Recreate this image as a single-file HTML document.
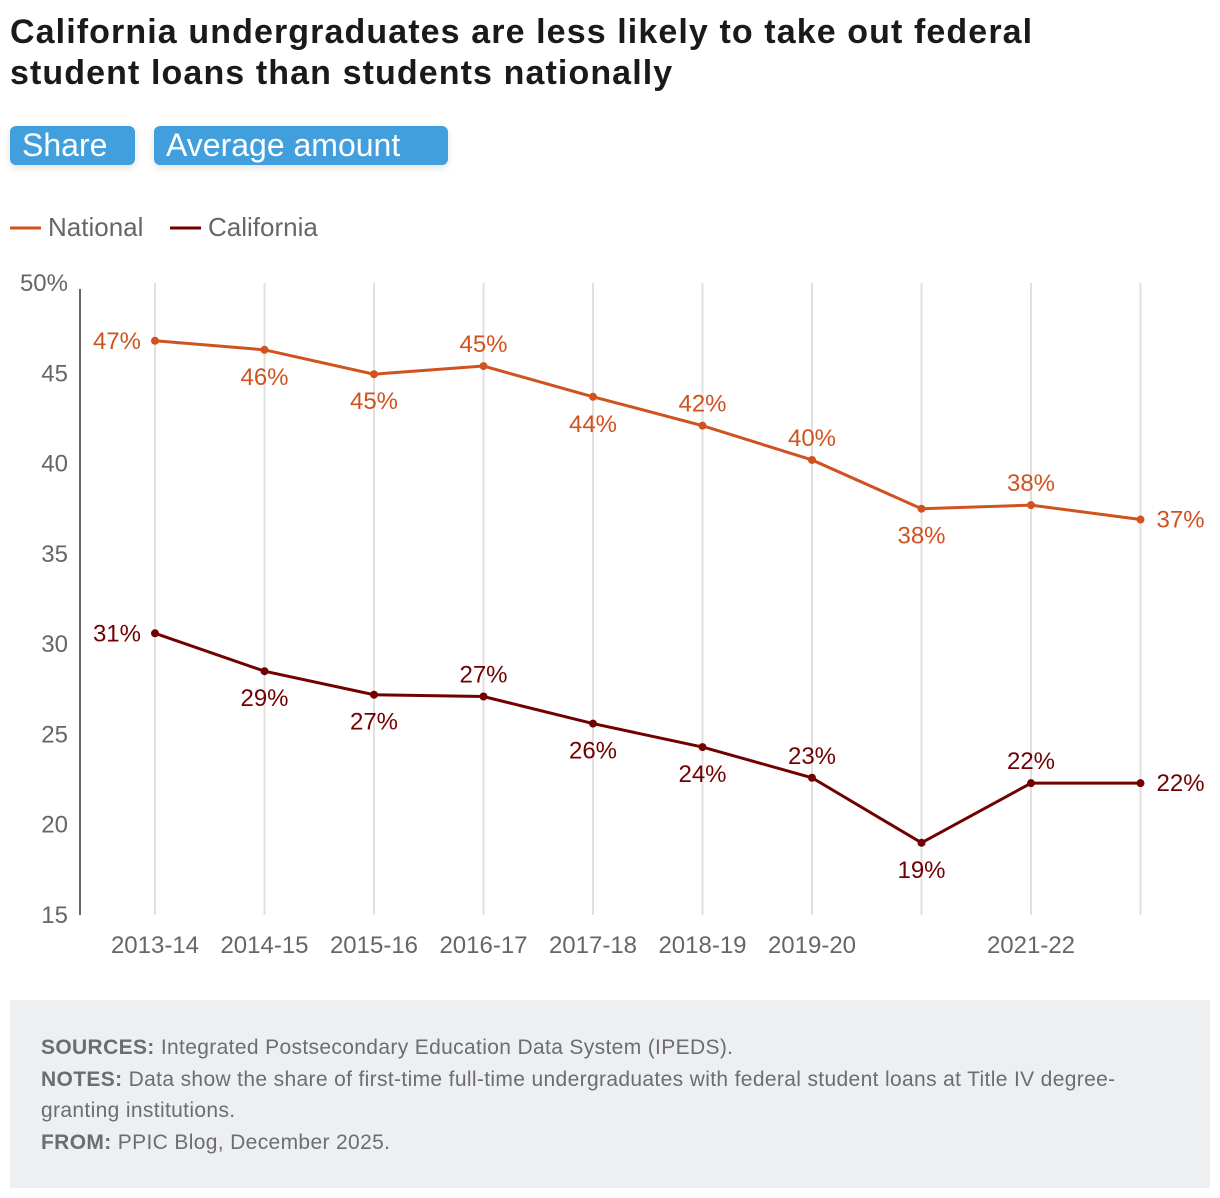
<!DOCTYPE html>
<html><head><meta charset="utf-8"><style>
body{margin:0;width:1220px;height:1198px;background:#fff;font-family:"Liberation Sans",sans-serif;position:relative;overflow:hidden}
h1{position:absolute;left:10px;top:12px;margin:0;font-size:34px;letter-spacing:1.1px;line-height:41px;font-weight:bold;color:#1a1a1a;width:1200px;white-space:nowrap}
.btn{position:absolute;top:126px;height:39px;background:#419fdd;color:#fff;font-size:32px;line-height:39px;border-radius:6px;padding:0 12px;box-shadow:0 3px 8px rgba(0,0,0,.12)}
.foot{position:absolute;left:10px;top:1000px;width:1200px;height:188px;background:#eeeff1;color:#6b6d72;font-size:21px;letter-spacing:0.35px;line-height:31px}
.foot div{position:absolute;left:31px}
</style></head><body>
<h1>California undergraduates are less likely to take out federal<br>student loans than students nationally</h1>
<div class="btn" style="left:10px;width:101px">Share</div>
<div class="btn" style="left:154px;width:270px">Average amount</div>
<svg id="c" width="1220" height="1000" style="position:absolute;left:0;top:0" font-family="Liberation Sans, sans-serif">
<g>
<line x1="10" y1="228" x2="41" y2="228" stroke="#d0521f" stroke-width="3"/>
<text x="48" y="236" font-size="26" fill="#666">National</text>
<line x1="170" y1="228" x2="201" y2="228" stroke="#710000" stroke-width="3"/>
<text x="208" y="236" font-size="26" fill="#666">California</text>
</g>
</svg>
<div class="foot">
<div style="top:32px"><b>SOURCES:</b> Integrated Postsecondary Education Data System (IPEDS).</div>
<div style="top:64px;width:1085px"><b>NOTES:</b> Data show the share of first-time full-time undergraduates with federal student loans at Title IV degree-granting institutions.</div>
<div style="top:127px"><b>FROM:</b> PPIC Blog, December 2025.</div>
</div>
<script>
const categories=["2013-14","2014-15","2015-16","2016-17","2017-18","2018-19","2019-20","2020-21","2021-22","2022-23"];
const tickShown=[true,true,true,true,true,true,true,false,true,false];
const national=[46.8,46.3,44.95,45.4,43.7,42.1,40.2,37.5,37.7,36.9];
const california=[30.6,28.5,27.2,27.1,25.6,24.3,22.6,19.0,22.3,22.3];
const natLabels=["47%","46%","45%","45%","44%","42%","40%","38%","38%","37%"];
const calLabels=["31%","29%","27%","27%","26%","24%","23%","19%","22%","22%"];
const natPos=["l","b","b","a","b","a","a","b","a","r"];
const calPos=["l","b","b","a","b","b","a","b","a","r"];
const yTicks=[15,20,25,30,35,40,45,50];
const svg=document.getElementById('c');const NS="http://www.w3.org/2000/svg";
const y=v=>915-(v-15)*(632/35);
const x=i=>155+i*109.5;
function mk(t,a,p){const e=document.createElementNS(NS,t);for(const k in a)e.setAttribute(k,a[k]);(p||svg).appendChild(e);return e;}
categories.forEach((c,i)=>{
 const g=mk('line',{x1:x(i),x2:x(i),y1:283,y2:915,stroke:'#e0e0e0','stroke-width':2});
 
 
 if(tickShown[i]){const t=mk('text',{x:x(i),y:953,'text-anchor':'middle','font-size':24,fill:'#666'});t.textContent=c;
 
 }
});
const ax=mk('line',{x1:80,x2:80,y1:289,y2:915,stroke:'#666','stroke-width':2});


yTicks.forEach(v=>{const t=mk('text',{x:68,y:y(v)+8,'text-anchor':'end','font-size':24,fill:'#666'});t.textContent=v===50?'50%':v;

});
function series(vals,labels,pos,color,name){
 const p=mk('polyline',{points:vals.map((v,i)=>x(i)+','+y(v)).join(' '),fill:'none',stroke:color,'stroke-width':3});
 
 
 vals.forEach((v,i)=>{
  const d=mk('circle',{cx:x(i),cy:y(v),r:4,fill:color});
  
  
  let tx=x(i),ty=y(v),an='middle';
  if(pos[i]==='a')ty-=14;else if(pos[i]==='b')ty+=35;else if(pos[i]==='l'){tx-=14;an='end';ty+=8;}else{tx+=16;an='start';ty+=8;}
  const t=mk('text',{x:tx,y:ty,'text-anchor':an,'font-size':24,fill:color});t.textContent=labels[i];
  
  
 });
}
series(national,natLabels,natPos,'#d0521f','national');
series(california,calLabels,calPos,'#710000','california');
</script>
</body></html>
